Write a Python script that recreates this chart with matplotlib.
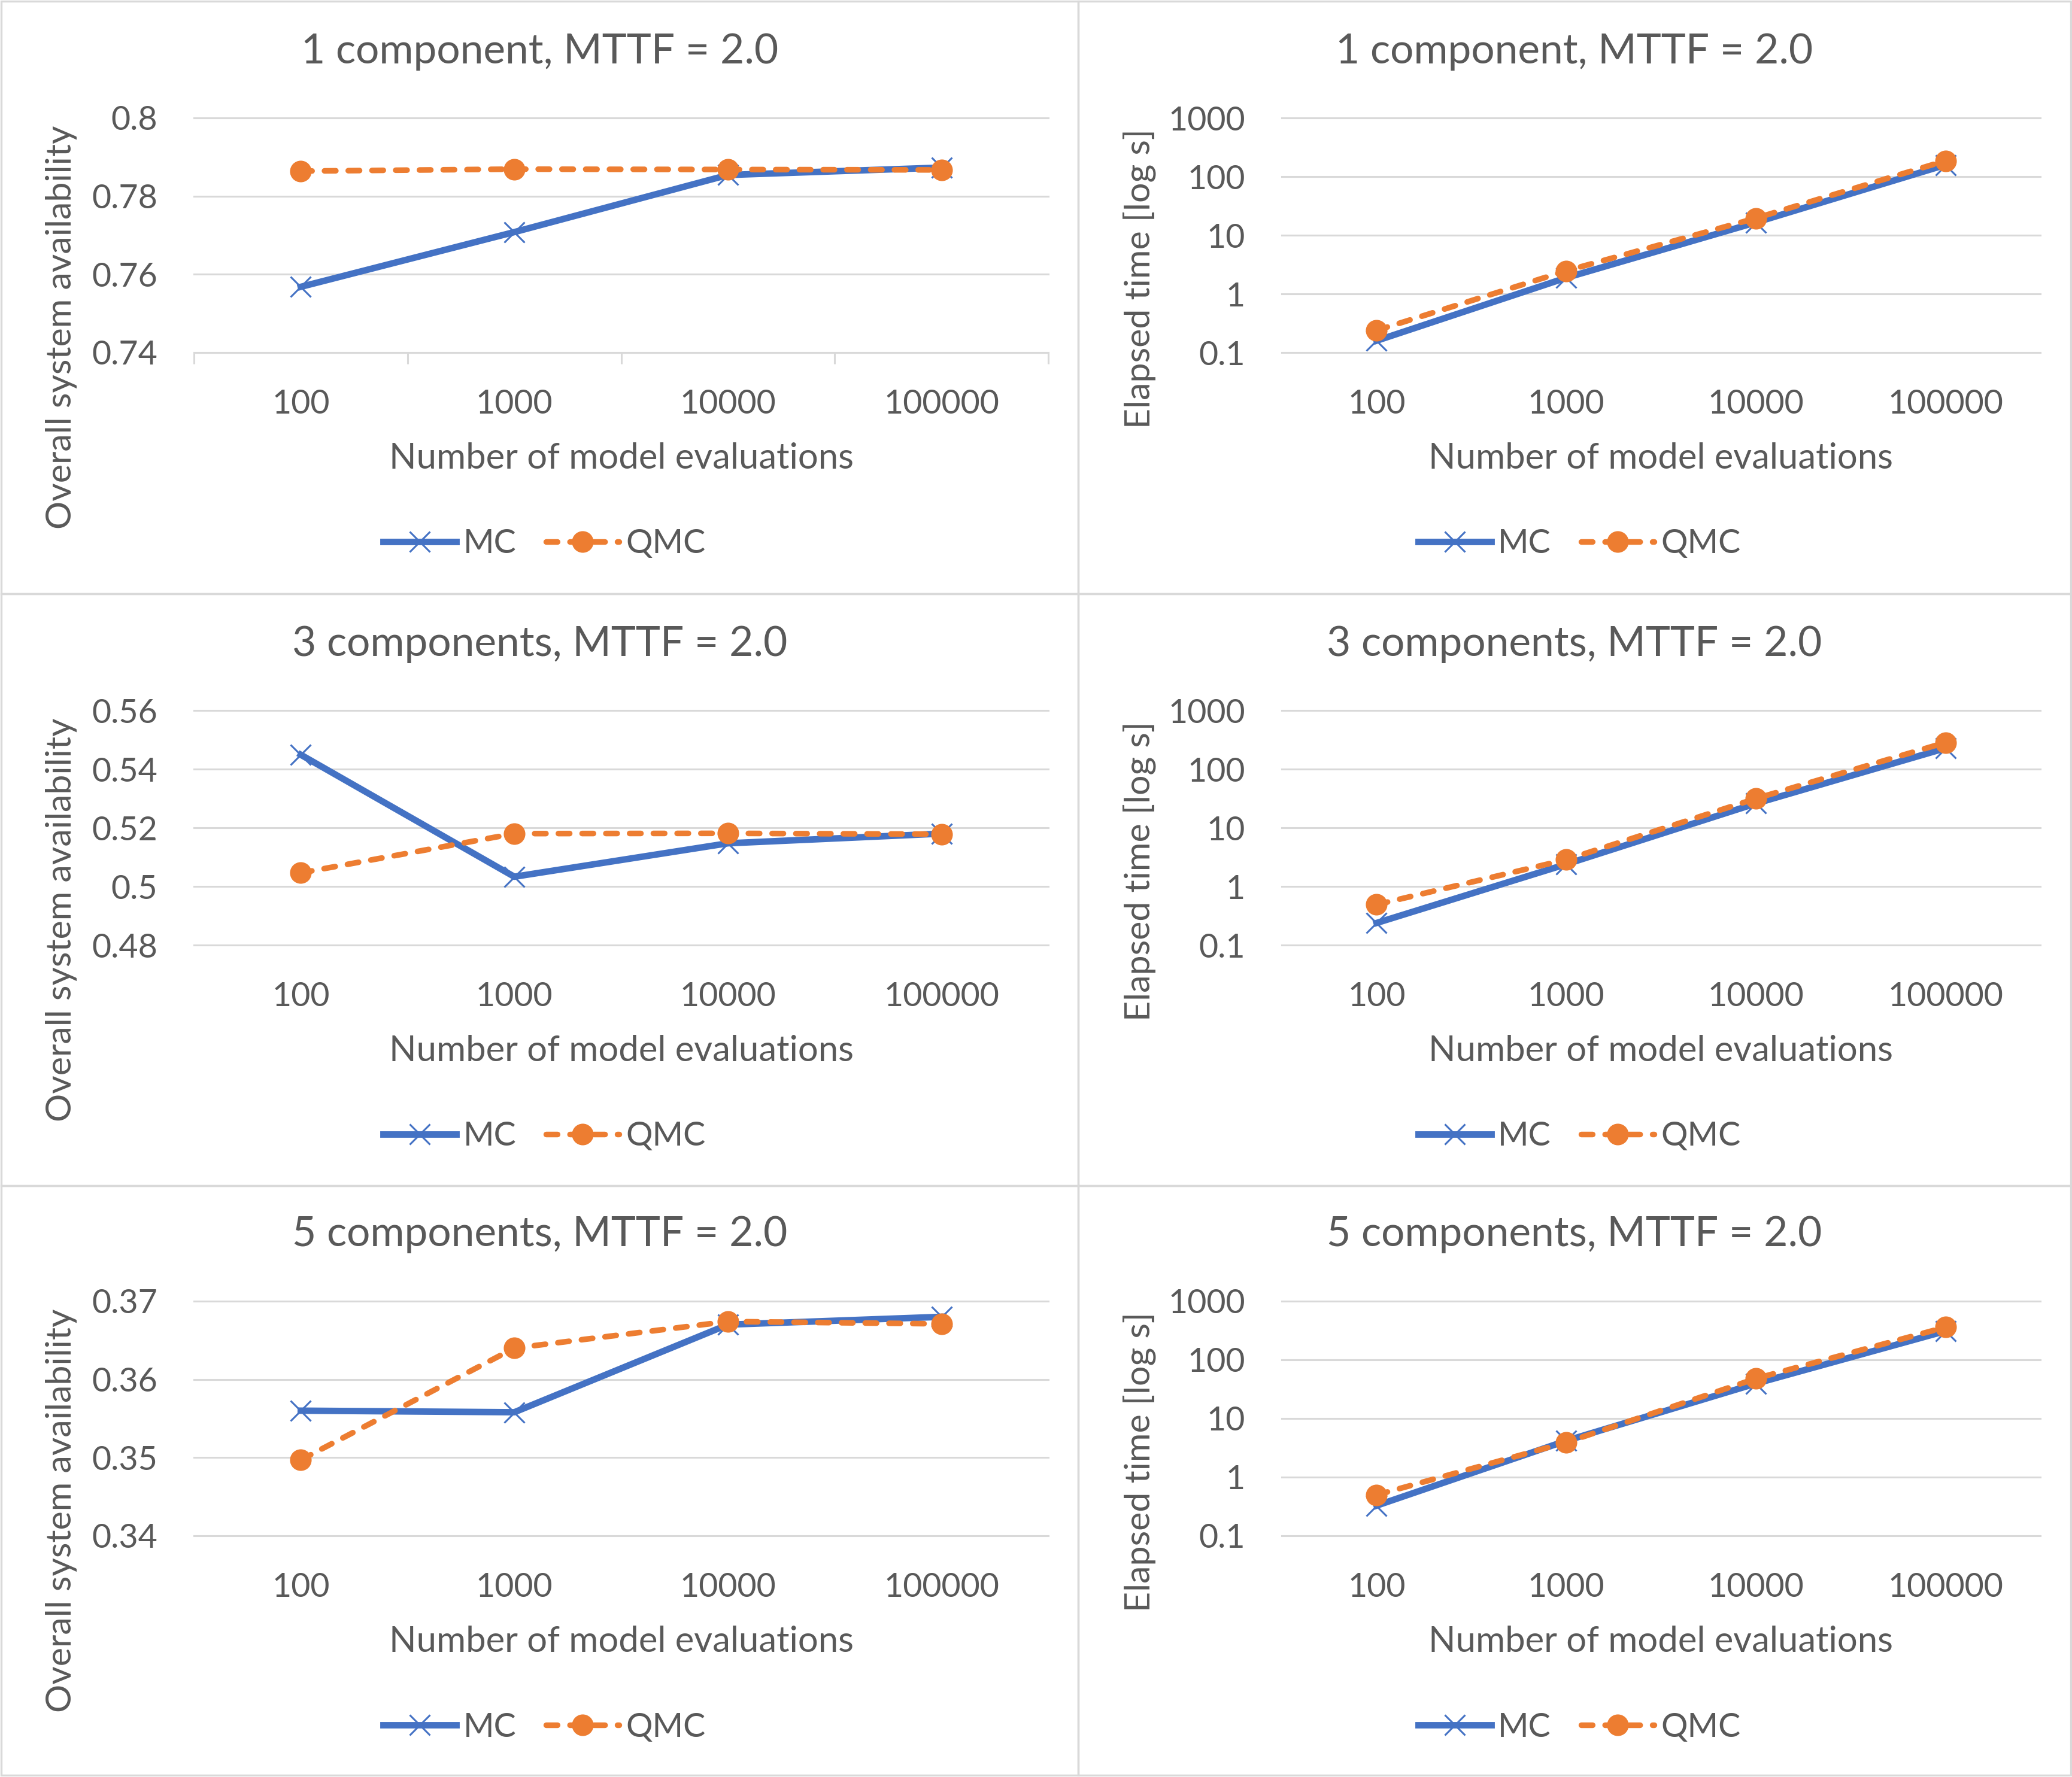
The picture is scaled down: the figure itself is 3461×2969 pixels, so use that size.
import matplotlib

matplotlib.use("Agg")
import matplotlib.pyplot as plt
from matplotlib.lines import Line2D
from matplotlib.patches import Rectangle
from matplotlib.ticker import FixedLocator, FuncFormatter

# Data
evaluations = ["100", "1000", "10000", "100000"]
titles = [
    "1 component, MTTF = 2.0",
    "3 components, MTTF = 2.0",
    "5 components, MTTF = 2.0",
]

# availability (left column)
avail_mc_1 = [0.7568, 0.7708, 0.7854, 0.7873]
avail_qmc_1 = [0.7864, 0.7869, 0.7868, 0.7867]
avail_mc_3 = [0.5449, 0.5033, 0.5147, 0.5180]
avail_qmc_3 = [0.5046, 0.5180, 0.5181, 0.5178]
avail_mc_5 = [0.3560, 0.3558, 0.3670, 0.3680]
avail_qmc_5 = [0.3497, 0.3640, 0.3674, 0.3671]

# elapsed time in seconds (right column)
time_mc_1 = [0.159, 1.88, 16.5, 158]
time_qmc_1 = [0.238, 2.47, 19.5, 186]
time_mc_3 = [0.238, 2.39, 25.9, 227]
time_qmc_3 = [0.489, 2.86, 31.4, 284]
time_mc_5 = [0.327, 4.17, 39.4, 309]
time_qmc_5 = [0.497, 3.9, 47.9, 360]

avail_ticks = [
    [0.74, 0.76, 0.78, 0.8],
    [0.48, 0.5, 0.52, 0.54, 0.56],
    [0.34, 0.35, 0.36, 0.37],
]
time_ticks = [0.1, 1, 10, 100, 1000]

BLUE = "#4472C4"
ORANGE = "#ED7D31"
TEXT = "#595959"
GRID = "#D9D9D9"

W, H = 3461, 2969
DPI = 200
plt.rcParams["font.family"] = ["Lato", "DejaVu Sans"]

MC_STYLE = dict(color=BLUE, linewidth=3.9, marker="x", markersize=12,
                markeredgewidth=1.1)
QMC_STYLE = dict(color=ORANGE, linewidth=3.4, linestyle=(0, (2.0, 2.2)),
                 dash_capstyle="round", marker="o", markersize=12)


def fx(px):
    return px / W


def fy(py):
    return 1 - py / H


def style_axes(ax, first_panel=False):
    """Excel-like look: horizontal grid only, no spines."""
    for side in ["top", "right", "left", "bottom"]:
        ax.spines[side].set_visible(False)
    ax.yaxis.grid(True, color=GRID, linewidth=1.1)
    for gl in ax.get_ygridlines():
        gl.set_clip_on(False)
    ax.set_axisbelow(True)
    ax.tick_params(axis="y", length=0, pad=22, labelsize=20, labelcolor=TEXT)
    ax.set_xlim(-0.5, 3.5)
    ax.set_xticks(range(len(evaluations)))
    ax.set_xticklabels(evaluations)
    if first_panel:
        ax.spines["bottom"].set_visible(True)
        ax.spines["bottom"].set_color(GRID)
        ax.spines["bottom"].set_linewidth(1.1)
        ax.xaxis.set_minor_locator(FixedLocator([-0.5, 0.5, 1.5, 2.5, 3.5]))
        ax.tick_params(axis="x", which="minor", length=7, width=1.1, color=GRID)
        ax.tick_params(axis="x", which="major", length=0, pad=22,
                       labelsize=20, labelcolor=TEXT)
    else:
        ax.tick_params(axis="x", length=0, pad=22, labelsize=20, labelcolor=TEXT)


def plot_pair(ax, mc, qmc):
    x = range(len(evaluations))
    ax.plot(x, mc, label="MC", zorder=3, **MC_STYLE)
    ax.plot(x, qmc, label="QMC", zorder=4, **QMC_STYLE)


fig = plt.figure(figsize=(W / DPI, H / DPI), dpi=DPI)

row_off = [0, 990, 1977]
row_bounds = [(2, 992), (992, 1981), (1981, 2966)]
col_bounds = [(2, 1801), (1801, 3459)]
col_axes = [(324, 1751), (2141, 3408)]

avail_data = [(avail_mc_1, avail_qmc_1), (avail_mc_3, avail_qmc_3),
              (avail_mc_5, avail_qmc_5)]
time_data = [(time_mc_1, time_qmc_1), (time_mc_3, time_qmc_3),
             (time_mc_5, time_qmc_5)]

for r in range(3):
    top = 197 + row_off[r]
    bottom = 589 + row_off[r]
    for c in range(2):
        # panel frame
        x0, x1 = col_bounds[c]
        y0, y1 = row_bounds[r]
        fig.add_artist(Rectangle((fx(x0), fy(y1)), fx(x1 - x0), (y1 - y0) / H,
                                 transform=fig.transFigure, fill=False,
                                 edgecolor=GRID, linewidth=1.2))

        a0, a1 = col_axes[c]
        ax = fig.add_axes([fx(a0), fy(bottom), fx(a1 - a0), (bottom - top) / H])
        if c == 0:
            mc, qmc = avail_data[r]
            plot_pair(ax, mc, qmc)
            ticks = avail_ticks[r]
            ax.set_ylim(ticks[0], ticks[-1])
            ax.set_yticks(ticks)
            ax.yaxis.set_major_formatter(FuncFormatter(lambda v, p: f"{v:g}"))
            style_axes(ax, first_panel=(r == 0))
            ylabel = "Overall system availability"
            ylab_x, ylab_y = 103, 547
        else:
            mc, qmc = time_data[r]
            plot_pair(ax, mc, qmc)
            ax.set_yscale("log")
            ax.set_ylim(time_ticks[0], time_ticks[-1])
            ax.yaxis.set_major_locator(FixedLocator(time_ticks))
            ax.yaxis.set_minor_locator(FixedLocator([]))
            ax.yaxis.set_major_formatter(FuncFormatter(lambda v, p: f"{v:g}"))
            style_axes(ax)
            ylabel = "Elapsed time [log s]"
            ylab_x, ylab_y = 1903, 466

        # texts
        pc = (x0 + x1) / 2
        fig.text(fx(pc), fy(86 + row_off[r]), titles[r], ha="center",
                 va="center", fontsize=25, color=TEXT)
        fig.text(fx((a0 + a1) / 2), fy(766 + row_off[r]),
                 "Number of model evaluations", ha="center", va="center",
                 fontsize=21.5, color=TEXT)
        fig.text(fx(ylab_x), fy(ylab_y + row_off[r]), ylabel, ha="center",
                 va="center", rotation=90, fontsize=21.3, color=TEXT)

        handles = [Line2D([], [], **MC_STYLE), Line2D([], [], **QMC_STYLE)]
        fig.legend(handles, ["MC", "QMC"], loc="center",
                   bbox_to_anchor=(fx(pc + 8), fy(909 + row_off[r])),
                   ncol=2, frameon=False, fontsize=20, labelcolor=TEXT,
                   handlelength=2.2, handletextpad=0.2, columnspacing=0.9)

fig.savefig("out.png", dpi=DPI)
